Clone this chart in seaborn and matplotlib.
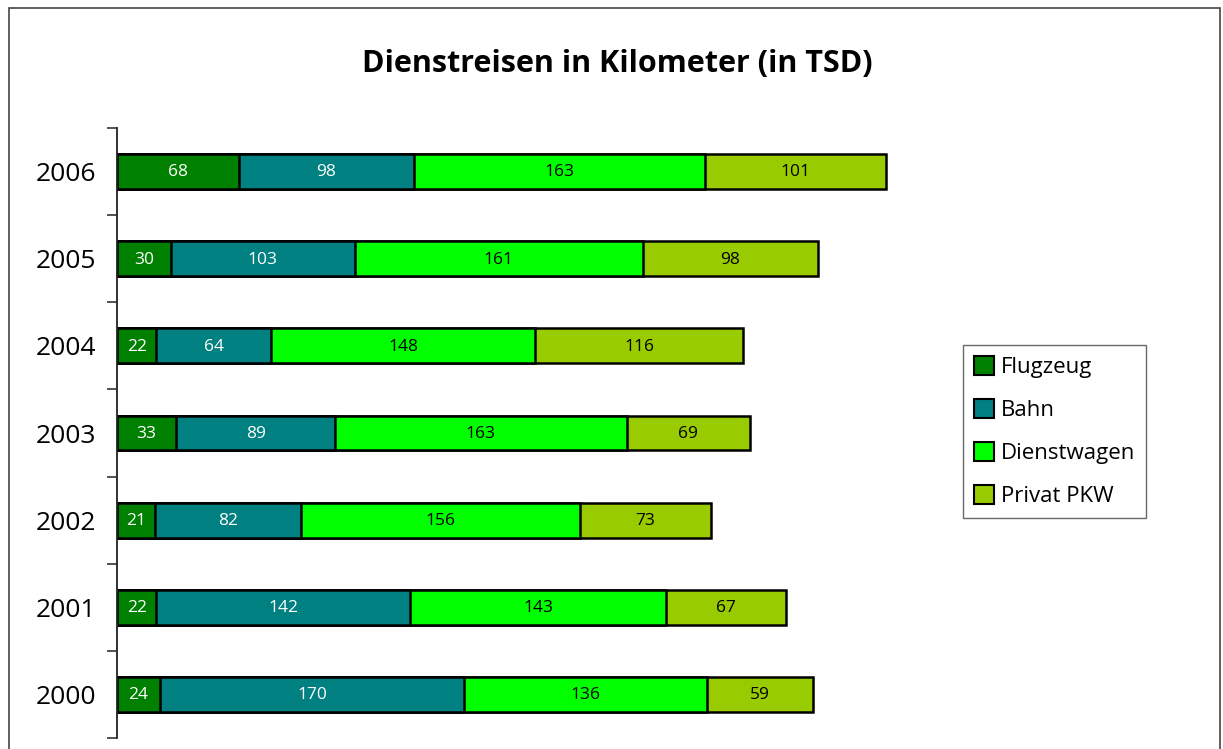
import numpy as np
import pandas as pd
import matplotlib.pyplot as plt
import seaborn as sns
from matplotlib.patches import Rectangle, Patch

sns.set_style("white")
plt.rcParams['font.family'] = ['Open Sans', 'DejaVu Sans']
plt.rcParams['text.color'] = 'black'
plt.rcParams['ytick.color'] = 'black'

# ---------------- DATA ---------------- #
years = ["2006", "2005", "2004", "2003", "2002", "2001", "2000"]
series = ["Flugzeug", "Bahn", "Dienstwagen", "Privat PKW"]
flugzeug = [68, 30, 22, 33, 21, 22, 24]
bahn = [98, 103, 64, 89, 82, 142, 170]
dienstwagen = [163, 161, 148, 163, 156, 143, 136]
privat = [101, 98, 116, 69, 73, 67, 59]
colors = ["#008000", "#008080", "#00FF00", "#99CC00"]
label_colors = ["white", "white", "black", "black"]

df = pd.DataFrame({"year": years, "Flugzeug": flugzeug, "Bahn": bahn,
                   "Dienstwagen": dienstwagen, "Privat PKW": privat})
cum = df[series].cumsum(axis=1)

# ---------------- PLOT ---------------- #
fig = plt.figure(figsize=(12.23, 7.49), dpi=100)
ax = fig.add_axes([117 / 1223, 11 / 749, 810 / 1223, 610 / 749])

# stacked look: draw cumulative totals from the widest down
for i in reversed(range(len(series))):
    sns.barplot(x=cum[series[i]], y=df["year"], order=years, orient="h",
                color=colors[i], saturation=1, width=0.4,
                edgecolor="black", linewidth=1.8, ax=ax)

# segment labels
for i, s in enumerate(series):
    start = cum[s] - df[s]
    for j, v in enumerate(df[s]):
        ax.text(start[j] + v / 2, j + 0.01, str(v), ha="center", va="center",
                color=label_colors[i], fontsize=12.5)

ax.set_xlim(0, 453)
ax.set_ylim(6.5, -0.5)
ax.set_xlabel("")
ax.set_ylabel("")
ax.set_xticks([])
for sp in ["top", "right", "bottom"]:
    ax.spines[sp].set_visible(False)
ax.spines["left"].set_color("#222222")
ax.spines["left"].set_linewidth(1.3)
ax.set_yticks(range(len(years)))
ax.set_yticklabels(years, fontsize=19)
ax.set_yticks(np.arange(-0.5, 7, 1), minor=True)
ax.tick_params(axis="y", which="major", left=False, length=0, pad=15)
ax.tick_params(axis="y", which="minor", left=True, length=7, width=1.3,
               color="#444444", direction="out")

fig.text(0.505, 0.914, "Dienstreisen in Kilometer (in TSD)", ha="center", va="center",
         fontsize=22, fontweight="bold", color="black")

handles = [Patch(facecolor=c, edgecolor="black", linewidth=1.5) for c in colors]
fig.legend(handles, series, loc="upper left", bbox_to_anchor=(963 / 1223, 1 - 345 / 749),
           fontsize=16, frameon=True, fancybox=False, edgecolor="#444444",
           handlelength=0.9, handleheight=0.9, handletextpad=0.3, labelspacing=0.95,
           borderpad=0.5, borderaxespad=0)

fig.patches.append(Rectangle((9 / 1223, -0.05), 1211 / 1223, 1.05 - 8 / 749,
                             transform=fig.transFigure, fill=False,
                             edgecolor="#444444", linewidth=1.2))

fig.savefig("out.png", dpi=100)
